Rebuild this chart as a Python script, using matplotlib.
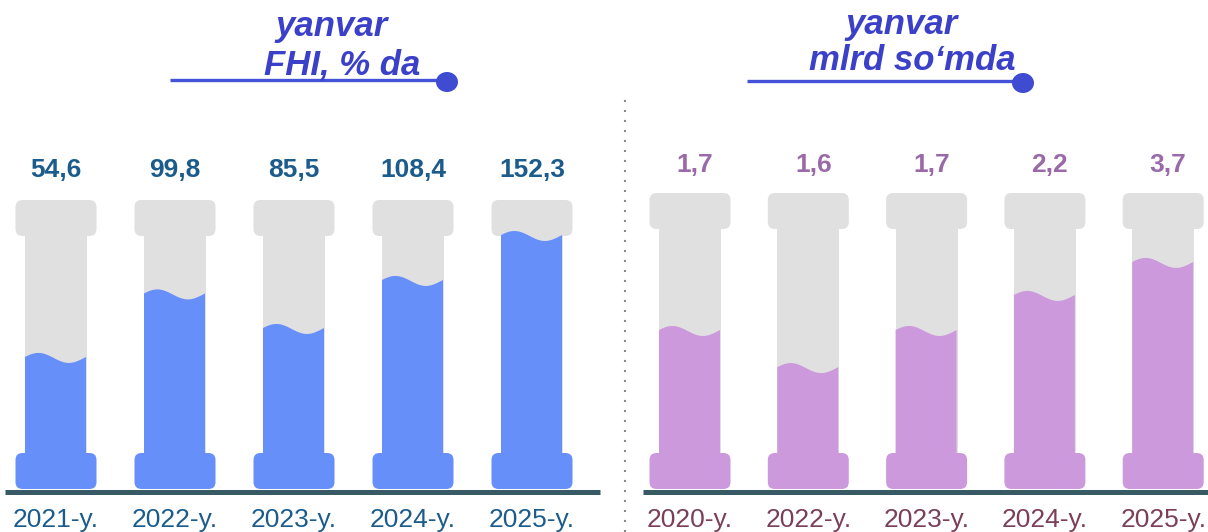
import numpy as np
import matplotlib
matplotlib.use("Agg")
import matplotlib.pyplot as plt
from matplotlib.patches import FancyBboxPatch, Rectangle, Polygon, Ellipse
from matplotlib.lines import Line2D

# ---------------- data ----------------
left_years = ["2021-y.", "2022-y.", "2023-y.", "2024-y.", "2025-y."]
left_values = [54.6, 99.8, 85.5, 108.4, 152.3]
left_fill = [0.52, 0.77, 0.634, 0.823, 1.0]      # fill level
left_title = ["yanvar", "FHI, % da"]

right_years = ["2020-y.", "2022-y.", "2023-y.", "2024-y.", "2025-y."]
right_values = [1.7, 1.6, 1.7, 2.2, 3.7]
right_fill = [0.626, 0.48, 0.626, 0.764, 0.894]   # fill level
right_title = ["yanvar", "mlrd so\u2018mda"]

# ---------------- layout ----------------
W, H = 1208, 532
PX_Y = 254.0   # pixels per y unit
Y0 = 490.0     # pixel row of y = 0

GREY = "#e0e0e0"
FONT = "Liberation Sans"

fig = plt.figure(figsize=(W / 100, H / 100), dpi=100)


def dy(p):
    return p / PX_Y


def make_ax(px_left, px_right, first_center, px_x):
    ax = fig.add_axes([px_left / W, 0, (px_right - px_left) / W, 1])
    ax.set_xlim((px_left - first_center) / px_x, (px_right - first_center) / px_x)
    ax.set_ylim((Y0 - H) / PX_Y, Y0 / PX_Y)
    ax.axis("off")
    return ax


def panel(ax, px_x, first_center, values, fills, years, fill_color, val_color,
          year_color, cap_bottom_px, label_base_px, label_dx_px):
    def dx(p):
        return p / px_x

    def rbox(x, y, w, h, color, r=7):
        ax.add_patch(FancyBboxPatch((x, y), w, h,
                                    boxstyle=f"round,pad=0,rounding_size={dx(r)}",
                                    mutation_aspect=px_x / PX_Y,
                                    facecolor=color, edgecolor="none", zorder=3))

    cap_bottom = (Y0 - cap_bottom_px) / PX_Y
    for i, (v, f, yr) in enumerate(zip(values, fills, years)):
        # grey column + cap
        ax.add_patch(Rectangle((i - dx(31), dy(20)), dx(62), cap_bottom - dy(20) + dy(2),
                               facecolor=GREY, edgecolor="none", zorder=2))
        rbox(i - dx(40.5), cap_bottom, dx(81), dy(36), GREY)
        # liquid with wave
        t = np.linspace(0, 1, 80)
        xs = i - dx(31) + t * dx(61)
        ys = f + dy(5) * np.cos(2 * np.pi * (t - 0.22))
        pts = np.column_stack([np.r_[xs, xs[::-1]], np.r_[ys, np.full_like(ys, dy(20))]])
        ax.add_patch(Polygon(pts, closed=True, facecolor=fill_color, edgecolor="none", zorder=4))
        # base
        rbox(i - dx(40.5), dy(1), dx(81), dy(36), fill_color)
        # labels
        ax.text(i + dx(label_dx_px), (Y0 - label_base_px) / PX_Y,
                f"{v:.1f}".replace(".", ","), ha="center", va="baseline",
                fontsize=19, fontweight="bold", color=val_color, family=FONT, zorder=5)
        ax.text(i, (Y0 - 527) / PX_Y, yr, ha="center", va="baseline",
                fontsize=19, color=year_color, family=FONT, zorder=5)


def baseline(ax, px_x, first_center, x0, x1):
    ax.plot([(x0 - first_center) / px_x, (x1 - first_center) / px_x], [dy(-1.5)] * 2,
            color="#385a65", lw=3.6, solid_capstyle="butt", zorder=5)


def title(ax, px_x, first_center, lines, cx_px, base_px, line_x0, line_x1, line_y, dot_x):
    def X(p):
        return (p - first_center) / px_x

    def Y(p):
        return (Y0 - p) / PX_Y

    for txt, cx, by in zip(lines, cx_px, base_px):
        ax.text(X(cx), Y(by), txt, ha="center", va="baseline", fontsize=25,
                fontweight="bold", fontstyle="italic", color="#3b40c9", family=FONT, zorder=6)
    ax.plot([X(line_x0), X(line_x1)], [Y(line_y)] * 2, color="#4352d8", lw=2.4,
            solid_capstyle="butt", zorder=5)
    ax.add_patch(Ellipse((X(dot_x), Y(line_y + 2)), 22 / px_x, dy(20),
                         facecolor="#3f4bd1", edgecolor="none", zorder=6))


# left panel
LX, LC = 119.0, 56
axL = make_ax(0, 604, LC, LX)
panel(axL, LX, LC, left_values, left_fill, left_years, "#668ffa", "#1b5c8c", "#1b5c8c",
      236, 177, 0)
baseline(axL, LX, LC, 5, 600)
title(axL, LX, LC, left_title, [332, 342], [36, 75], 170, 440, 80, 447)

# right panel
RX, RC = 118.3, 690
axR = make_ax(620, 1208, RC, RX)
panel(axR, RX, RC, right_values, right_fill, right_years, "#cc99dd", "#9a6aa8", "#7b3f58",
      229, 172, 5)
baseline(axR, RX, RC, 643, 1208)
title(axR, RX, RC, right_title, [902, 912], [34, 70], 747, 1015, 81, 1023)

# dotted separator
fig.add_artist(Line2D([625 / W, 625 / W], [0, 1 - 92 / H], transform=fig.transFigure,
                      color="#8a8a8a", lw=1.5, linestyle=(0, (1, 3.8))))

fig.savefig("out.png", dpi=100)
